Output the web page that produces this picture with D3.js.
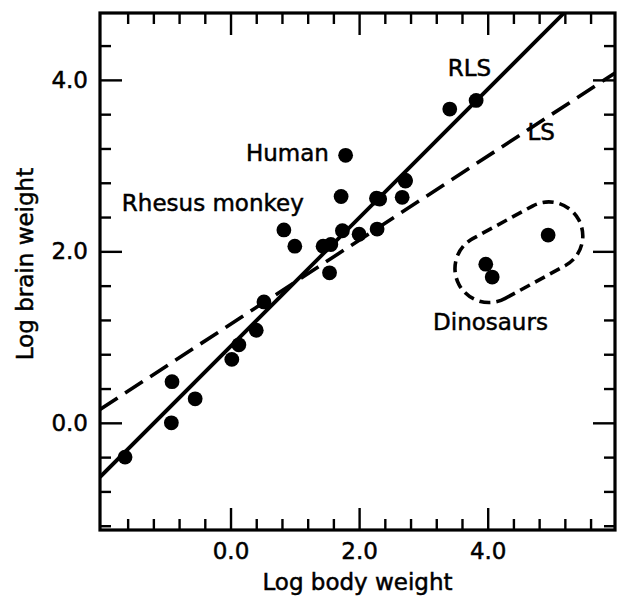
<!DOCTYPE html>
<html>
<head>
<meta charset="utf-8">
<script src="https://cdn.jsdelivr.net/npm/d3@7"></script>
<style>
  html, body { margin: 0; padding: 0; background: #fff; }
  svg { display: block; }
  text { font-family: "DejaVu Sans", sans-serif; fill: #000; stroke: #000; stroke-width: 0.5px; }
</style>
</head>
<body>
<svg id="chart" width="617" height="604"></svg>
<script>
// ---- data (log10 body weight, log10 brain weight) ----
const species = ["Mouse","Golden hamster","Mole","Rat","Guinea pig","Mountain beaver","Rabbit","Cat",
  "Rhesus monkey","Potar monkey","Goat","Grey wolf","Kangaroo","Sheep","Chimpanzee","Human","Jaguar",
  "Donkey","Pig","Gorilla","Cow","Horse","Giraffe","Asian elephant","African elephant",
  "Triceratops","Diplodocus","Brachiosaurus"];
const bodyLog  = [-1.64,-0.92,-0.91,-0.55,0.02,0.13,0.40,0.52,0.83,1.00,1.44,1.56,1.54,1.74,1.72,1.79,2.00,
  2.27,2.28,2.32,2.67,2.72,2.72,3.41,3.82,3.97,4.07,4.94];
const brainLog = [-0.40,0.00,0.48,0.28,0.74,0.91,1.08,1.41,2.25,2.06,2.06,2.08,1.75,2.24,2.64,3.12,2.20,
  2.62,2.26,2.61,2.63,2.82,2.83,3.66,3.76,1.85,1.70,2.19];

// fitted lines: [slope, intercept]
const rlsLine = [0.75, 0.89];
const lsLine  = [0.49, 1.15];

// axis ticks
const majorTicks = [0.0, 2.0, 4.0];
const majorTickLabels = ["0.0", "2.0", "4.0"];
const minorStep = 0.4;

// annotations (data coordinates)
const labelText   = ["RLS", "LS", "Human", "Rhesus monkey", "Dinosaurs"];
const labelX      = [3.38, 4.62, 1.53, -1.69, 3.15];
const labelY      = [4.05, 3.30, 3.05, 2.47, 1.08];
const labelAnchor = ["start", "start", "end", "start", "start"];
// dinosaur capsule end centres (data coords)
const capsuleX = [4.02, 4.95];
const capsuleY = [1.80, 2.18];

// ---- layout ----
const svg = d3.select("#chart");
const L = 100, R = 615, T = 13, B = 530;
const x = d3.scaleLinear().domain([-2.03, 5.98]).range([L, R]);
const y = d3.scaleLinear().domain([-1.25, 4.78]).range([B, T]);
const W = R - L, H = B - T;

const fs = 23;

svg.append("defs").append("clipPath").attr("id", "clip")
  .append("rect").attr("x", L).attr("y", T).attr("width", W).attr("height", H);

// minor ticks
function range(dom) {
  const out = [];
  const start = Math.ceil(dom[0] / minorStep) * minorStep;
  for (let v = start; v <= dom[1] + 1e-9; v += minorStep) {
    const r = Math.round(v * 10) / 10;
    if (!majorTicks.some(m => Math.abs(m - r) < 1e-6)) out.push(r);
  }
  return out;
}
const xMinor = range(x.domain()).filter(v => Math.abs(x(v) - L) > 3 && Math.abs(x(v) - R) > 3);
const yMinor = range(y.domain()).filter(v => Math.abs(y(v) - B) > 3 && Math.abs(y(v) - T) > 3);

const minorLen = 11, majorLen = 22;

function styleAxis(g) {
  g.select(".domain").remove();
  g.selectAll(".tick line").attr("stroke", "#000").attr("stroke-width", 2.4);
  g.selectAll("text").attr("font-size", fs).attr("font-family", "DejaVu Sans, sans-serif").attr("fill", "#000");
}

// bottom
svg.append("g").attr("transform", `translate(0,${B})`)
  .call(d3.axisBottom(x).tickValues(xMinor).tickSize(-minorLen).tickFormat(""))
  .call(styleAxis);
svg.append("g").attr("transform", `translate(0,${B})`)
  .call(d3.axisBottom(x).tickValues(majorTicks).tickSize(-majorLen).tickPadding(13)
    .tickFormat((d, i) => majorTickLabels[i]))
  .call(styleAxis);
// top
svg.append("g").attr("transform", `translate(0,${T})`)
  .call(d3.axisTop(x).tickValues(xMinor).tickSize(-minorLen).tickFormat(""))
  .call(styleAxis);
svg.append("g").attr("transform", `translate(0,${T})`)
  .call(d3.axisTop(x).tickValues(majorTicks).tickSize(-majorLen).tickFormat(""))
  .call(styleAxis);
// left
svg.append("g").attr("transform", `translate(${L},0)`)
  .call(d3.axisLeft(y).tickValues(yMinor).tickSize(-minorLen).tickFormat(""))
  .call(styleAxis);
svg.append("g").attr("transform", `translate(${L},0)`)
  .call(d3.axisLeft(y).tickValues(majorTicks).tickSize(-majorLen).tickPadding(12)
    .tickFormat((d, i) => majorTickLabels[i]))
  .call(styleAxis);
// right
svg.append("g").attr("transform", `translate(${R},0)`)
  .call(d3.axisRight(y).tickValues(yMinor).tickSize(-minorLen).tickFormat(""))
  .call(styleAxis);
svg.append("g").attr("transform", `translate(${R},0)`)
  .call(d3.axisRight(y).tickValues(majorTicks).tickSize(-majorLen).tickFormat(""))
  .call(styleAxis);

// frame
svg.append("rect").attr("x", L).attr("y", T).attr("width", W).attr("height", H)
  .attr("fill", "none").attr("stroke", "#000").attr("stroke-width", 3.2);

// lines
const plot = svg.append("g").attr("clip-path", "url(#clip)");
const xd = x.domain();
function lineData(p) { return xd.map(v => [v, p[0] * v + p[1]]); }
const lineGen = d3.line().x(d => x(d[0])).y(d => y(d[1]));
plot.append("path").datum(lineData(rlsLine)).attr("d", lineGen)
  .attr("fill", "none").attr("stroke", "#000").attr("stroke-width", 3.8);
plot.append("path").datum(lineData(lsLine)).attr("d", lineGen)
  .attr("fill", "none").attr("stroke", "#000").attr("stroke-width", 3.6)
  .attr("stroke-dasharray", "21,9");

// points
plot.selectAll("circle.pt").data(bodyLog).join("circle").attr("class", "pt")
  .attr("cx", d => x(d)).attr("cy", (d, i) => y(brainLog[i])).attr("r", 7.4).attr("fill", "#000");

// dinosaur capsule
{
  const x1 = x(capsuleX[0]), y1 = y(capsuleY[0]), x2 = x(capsuleX[1]), y2 = y(capsuleY[1]);
  const r = 34;
  const ang = Math.atan2(y2 - y1, x2 - x1);
  const nx = -Math.sin(ang) * r, ny = Math.cos(ang) * r;
  const p = d3.path();
  p.moveTo(x1 + nx, y1 + ny);
  p.lineTo(x2 + nx, y2 + ny);
  p.arc(x2, y2, r, ang + Math.PI / 2, ang - Math.PI / 2, true);
  p.lineTo(x1 - nx, y1 - ny);
  p.arc(x1, y1, r, ang - Math.PI / 2, ang + Math.PI / 2, true);
  p.closePath();
  svg.append("path").attr("d", p.toString()).attr("fill", "none")
    .attr("stroke", "#000").attr("stroke-width", 3.6).attr("stroke-dasharray", "11,6");
}

// labels
svg.selectAll("text.lab").data(labelText).join("text").attr("class", "lab")
  .attr("x", (d, i) => x(labelX[i])).attr("y", (d, i) => y(labelY[i]))
  .attr("text-anchor", (d, i) => labelAnchor[i])
  .attr("font-size", fs).text(d => d);

// axis titles
svg.append("text").attr("x", (L + R) / 2).attr("y", 590).attr("text-anchor", "middle")
  .attr("font-size", fs).text("Log body weight");
svg.append("text").attr("transform", `translate(33,264) rotate(-90)`).attr("text-anchor", "middle")
  .attr("font-size", fs).text("Log brain weight");
</script>
</body>
</html>
